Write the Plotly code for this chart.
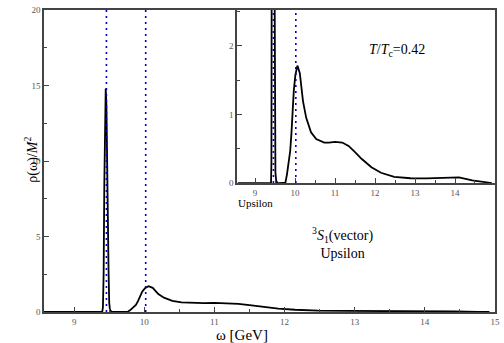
import plotly.graph_objects as go

# ---- data ----
omega = [8.57, 9.40, 9.41, 9.42, 9.43, 9.44, 9.45, 9.46, 9.47, 9.48, 9.49, 9.50, 9.51, 9.53,
         9.56, 9.60, 9.70, 9.76, 9.80, 9.84, 9.88, 9.91, 9.94, 9.97, 10.01, 10.06, 10.12,
         10.16, 10.20, 10.28, 10.40, 10.53, 10.73, 10.85, 11.0, 11.18, 11.34, 11.50, 11.67,
         11.91, 12.15, 12.48, 12.89, 13.29, 13.70, 13.94, 14.10, 14.43, 14.76, 14.92]
rho = [0, 0, 0.3, 2.5, 8.5, 13.5, 14.8, 13.7, 9.0, 6.0, 2.8, 0.6, 0.15, 0.03,
       0, 0, 0, 0.005, 0.13, 0.28, 0.47, 0.72, 1.05, 1.35, 1.58, 1.71, 1.60,
       1.42, 1.19, 0.95, 0.74, 0.64, 0.59, 0.59, 0.60, 0.59, 0.54, 0.45, 0.35,
       0.23, 0.15, 0.09, 0.07, 0.067, 0.077, 0.087, 0.083, 0.04, 0.01, 0]
exp_masses = [9.46, 10.02]
main_xticks = [9, 10, 11, 12, 13, 14, 15]
main_yticks = [0, 5, 10, 15, 20]
inset_xticks = [9, 10, 11, 12, 13, 14]
inset_yticks = [0, 1, 2]

SERIF = "Liberation Serif"
AX = "#444444"
TICKF = dict(family=SERIF, size=9, color="#555555")

fig = go.Figure()
fig.add_trace(go.Scatter(x=omega, y=rho, mode="lines", line=dict(color="black", width=1.8),
                         xaxis="x", yaxis="y", showlegend=False, hoverinfo="skip"))
fig.add_trace(go.Scatter(x=omega, y=rho, mode="lines", line=dict(color="black", width=1.8),
                         xaxis="x2", yaxis="y2", showlegend=False, hoverinfo="skip"))

shapes = []
for m in exp_masses:
    shapes.append(dict(type="line", xref="x", yref="y domain", x0=m, x1=m, y0=0, y1=1,
                       line=dict(color="#0000cc", width=1.6, dash="2px,4px")))
    shapes.append(dict(type="line", xref="x2", yref="y2 domain", x0=m, x1=m, y0=0, y1=1,
                       line=dict(color="#0000cc", width=1.6, dash="2px,4px")))

common = dict(showline=True, linecolor=AX, linewidth=1.5, mirror=True, ticks="inside",
              ticklen=5, tickcolor=AX, showgrid=False, zeroline=False, tickfont=TICKF)

fig.update_layout(
    width=504, height=343,
    margin=dict(l=44, r=4, t=10, b=31),
    paper_bgcolor="white", plot_bgcolor="white",
    xaxis=dict(domain=[0, 1], range=[8.57, 15], tickvals=main_xticks,
               minor=dict(dtick=0.5, ticks="inside", ticklen=3, tickcolor=AX),
               **common),
    yaxis=dict(domain=[0, 1], range=[0, 20], tickvals=main_yticks,
               minor=dict(dtick=2.5, ticks="inside", ticklen=3, tickcolor=AX),
               **common),
    xaxis2=dict(domain=[0.428, 1], range=[8.55, 15], tickvals=inset_xticks, anchor="y2",
                minor=dict(dtick=0.5, ticks="inside", ticklen=3, tickcolor=AX),
                **common),
    yaxis2=dict(domain=[0.427, 1], range=[0, 2.52], tickvals=inset_yticks, anchor="x2",
                minor=dict(dtick=0.5, ticks="inside", ticklen=3, tickcolor=AX),
                **common),
    shapes=shapes,
    annotations=[
        dict(text="ω [GeV]", xref="paper", yref="paper", x=0.44, y=-0.075, yanchor="middle",
             showarrow=False, font=dict(family=SERIF, size=15, color="black")),
        dict(text="ρ(ω)/<i>M</i><sup>2</sup>", xref="paper", yref="paper", x=-0.053, y=0.503,
             textangle=-90, showarrow=False, font=dict(family=SERIF, size=14, color="black")),
        dict(text="<i>T</i>/<i>T</i><sub>c</sub>=0.42", xref="x2", yref="y2", x=12.55, y=1.93,
             showarrow=False, font=dict(family=SERIF, size=14, color="black")),
        dict(text="<sup>3</sup><i>S</i><sub>1</sub>(vector)<br>Upsilon", xref="x", yref="y", x=12.83, y=4.6,
             showarrow=False, align="center", font=dict(family=SERIF, size=14, color="black")),
        dict(text="Upsilon", xref="x2", yref="paper", x=9.0, y=0.36, yanchor="middle", showarrow=False,
             font=dict(family=SERIF, size=11, color="black")),
    ],
)

fig.write_html("out.html")
